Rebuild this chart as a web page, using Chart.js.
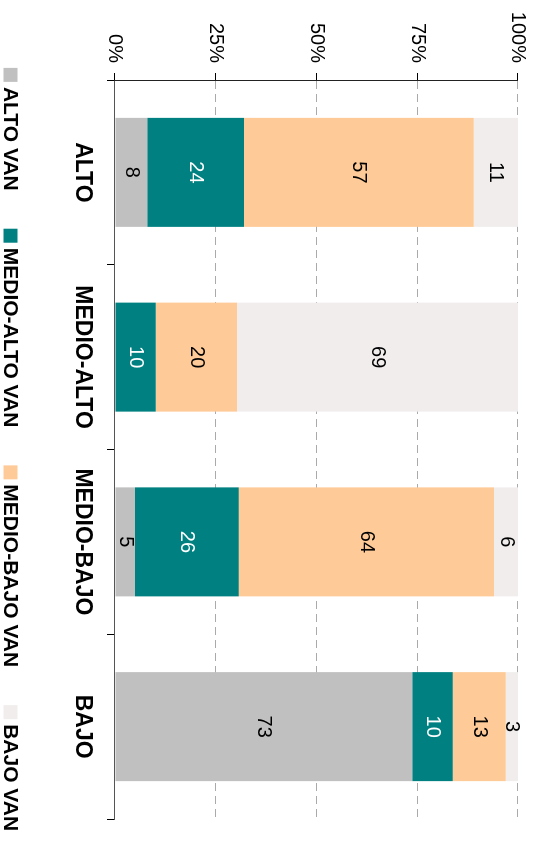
<!DOCTYPE html>
<html>
<head>
<meta charset="utf-8">
<script src="https://cdn.jsdelivr.net/npm/chart.js@4"></script>
<style>
  html, body { margin: 0; padding: 0; background: #fff; overflow: hidden; width: 541px; height: 843px; }
  #wrap {
    position: absolute; left: 0; top: 0;
    width: 843px; height: 541px;
    transform-origin: 0 0;
    transform: translateX(541px) rotate(90deg);
  }
</style>
</head>
<body>
<div id="wrap"><canvas id="chart" width="843" height="541"></canvas></div>
<script>
const categories = ['ALTO', 'MEDIO-ALTO', 'MEDIO-BAJO', 'BAJO'];
const seriesNames = ['ALTO VAN', 'MEDIO-ALTO VAN', 'MEDIO-BAJO VAN', 'BAJO VAN'];
const altoVan = [8, 0, 5, 73];
const medioAltoVan = [24, 10, 26, 10];
const medioBajoVan = [57, 20, 64, 13];
const bajoVan = [11, 69, 6, 3];
const yTicks = [0, 25, 50, 75, 100];

const FONT = '"Liberation Sans", Arial, Helvetica, sans-serif';
const series = [altoVan, medioAltoVan, medioBajoVan, bajoVan];
const colors = ['#c0c0c0', '#008080', '#fecb98', '#f1eded'];
const labelColors = ['#000', '#fff', '#000', '#000'];

// each bar is shown as share of its category total (100% stacked)
const totals = categories.map((_, i) => series.reduce((s, arr) => s + arr[i], 0));

// value labels in the middle of each segment
const barLabels = {
  id: 'barLabels',
  afterDatasetsDraw(chart) {
    const ctx = chart.ctx;
    ctx.save();
    ctx.font = '20px ' + FONT;
    ctx.textAlign = 'center';
    ctx.textBaseline = 'middle';
    chart.data.datasets.forEach((ds, di) => {
      chart.getDatasetMeta(di).data.forEach((bar, i) => {
        const v = ds.rawValues[i];
        if (!v) return;
        const p = bar.getCenterPoint();
        ctx.fillStyle = ds.labelColor;
        ctx.fillText(String(v), p.x, p.y);
      });
    });
    ctx.restore();
  }
};

// legend on one row, centred under the plot area
const bottomLegend = {
  id: 'bottomLegend',
  afterDraw(chart) {
    const ctx = chart.ctx;
    const area = chart.chartArea;
    const box = 14, gapText = 5, gapItem = 38;
    ctx.save();
    ctx.font = 'bold 21px ' + FONT;
    ctx.textBaseline = 'middle';
    ctx.textAlign = 'left';
    const items = chart.data.datasets.map(ds => ({
      text: ds.label, color: ds.backgroundColor,
      w: box + gapText + ctx.measureText(ds.label).width,
    }));
    const total = items.reduce((s, it) => s + it.w, 0) + gapItem * (items.length - 1);
    let x = (area.left + area.right) / 2 - total / 2;
    const y = chart.height - 10.5;
    items.forEach(it => {
      ctx.fillStyle = it.color;
      ctx.fillRect(x, y - box / 2, box, box);
      ctx.fillStyle = '#000';
      ctx.fillText(it.text, x + box + gapText, y + 1);
      x += it.w + gapItem;
    });
    ctx.restore();
  }
};

new Chart(document.getElementById('chart').getContext('2d'), {
  type: 'bar',
  data: {
    labels: categories,
    datasets: series.map((arr, k) => ({
      label: seriesNames[k],
      data: arr.map((v, i) => v / totals[i] * 100),
      rawValues: arr,
      labelColor: labelColors[k],
      backgroundColor: colors[k],
      borderWidth: 0,
      categoryPercentage: 1,
      barPercentage: 0.59,
    })),
  },
  options: {
    responsive: false,
    animation: false,
    layout: { padding: { top: 23, right: 24, left: 0, bottom: 60 } },
    plugins: {
      legend: { display: false },
      tooltip: { enabled: false },
    },
    scales: {
      x: {
        stacked: true,
        grid: { offset: true, drawOnChartArea: false, tickLength: 8, tickColor: '#000' },
        border: { color: '#555', width: 1 },
        ticks: { color: '#000', padding: 11, font: { family: FONT, size: 23, weight: 'bold' } },
        afterFit: (s) => { s.height = 55; },
      },
      y: {
        stacked: true,
        min: 0,
        max: 100,
        afterBuildTicks: (s) => { s.ticks = yTicks.map(v => ({ value: v })); },
        grid: { color: '#aaa', tickColor: '#000', tickLength: 7, tickBorderDash: [] },
        border: { color: '#222', width: 1, dash: [8, 5] },
        ticks: { color: '#000', padding: 10, font: { family: FONT, size: 20 }, callback: (v) => v + '%' },
        afterFit: (s) => { s.width = 80; },
      },
    },
  },
  plugins: [barLabels, bottomLegend],
});
</script>
</body>
</html>
